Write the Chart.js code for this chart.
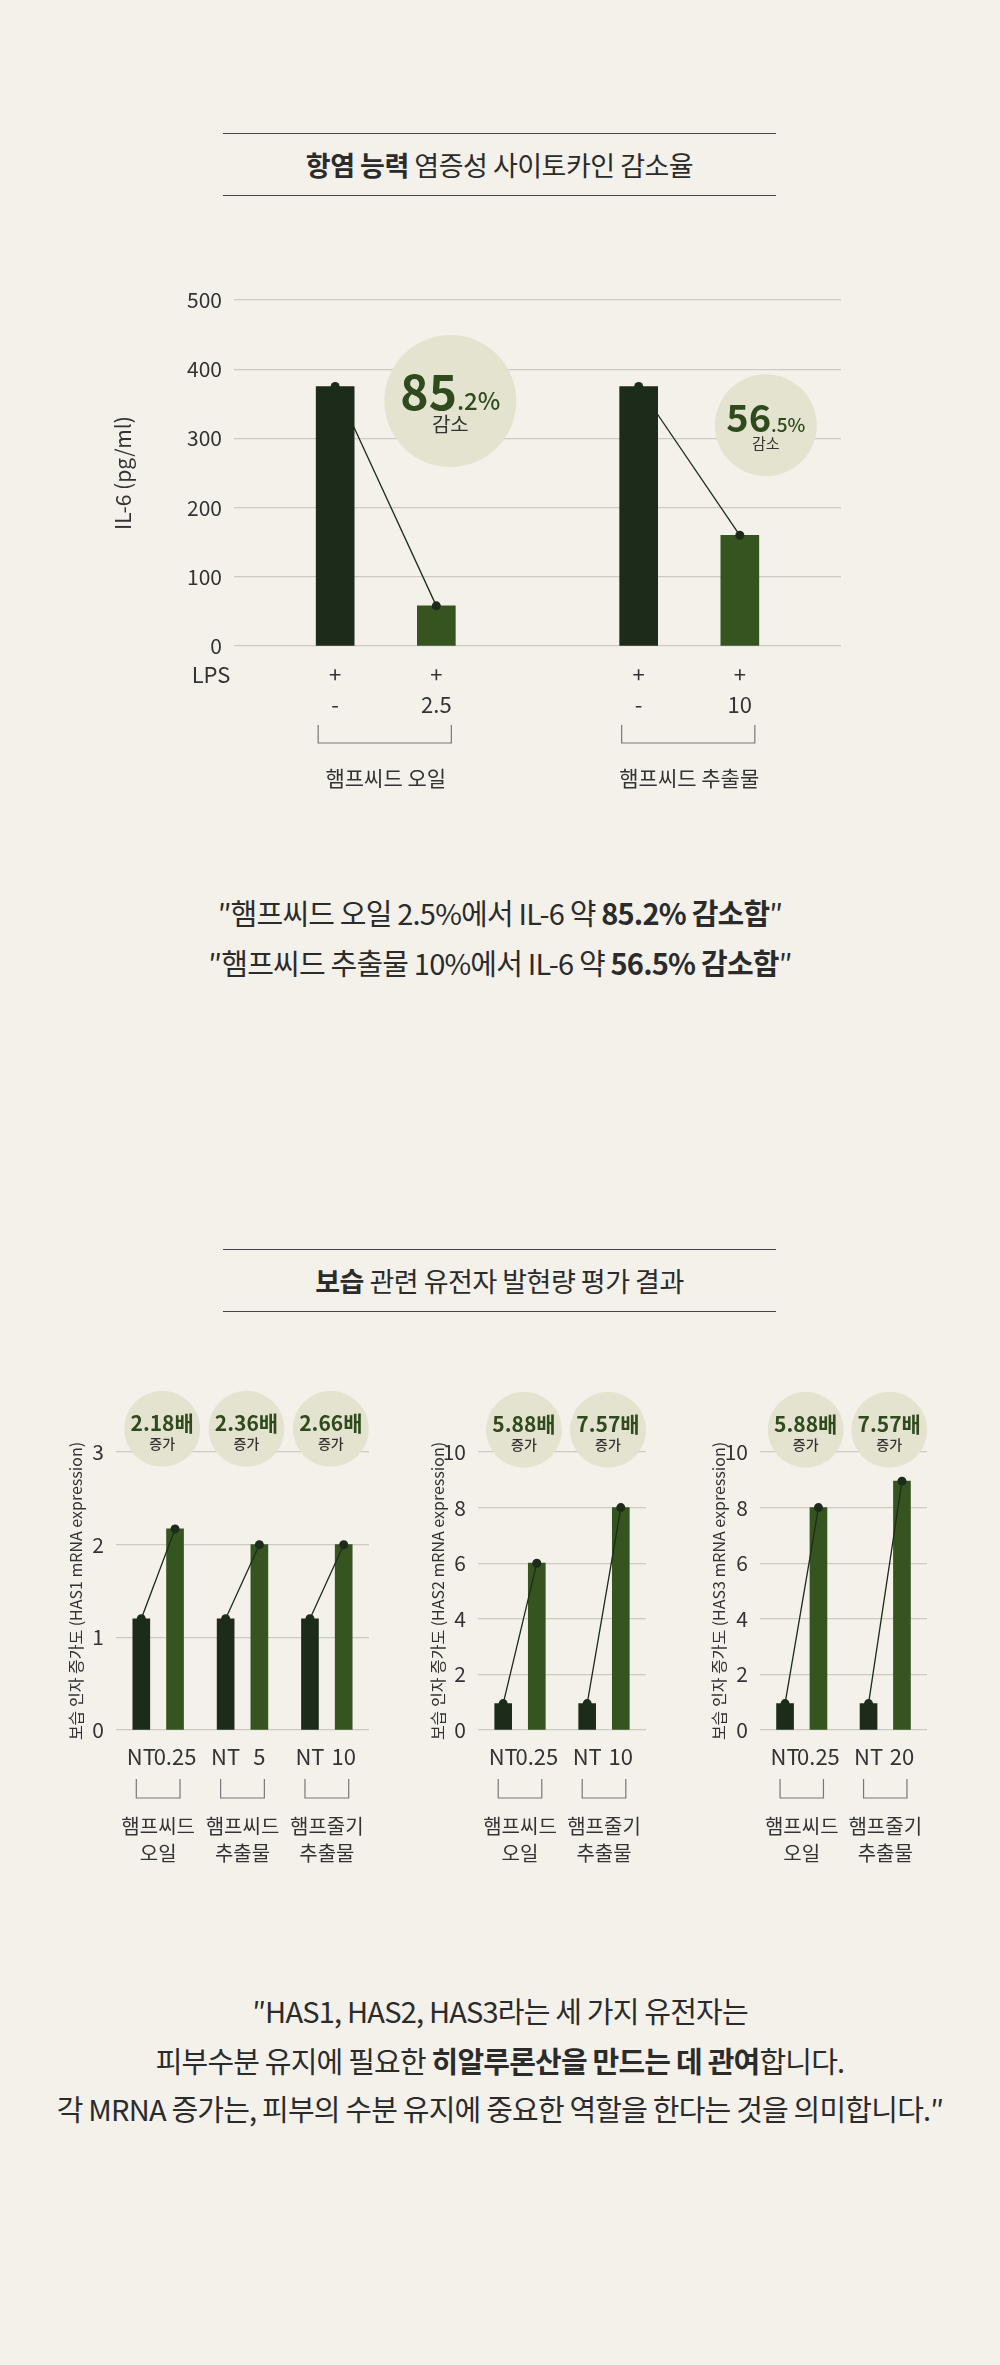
<!DOCTYPE html>
<html>
<head>
<meta charset="utf-8">
<script src="https://cdn.jsdelivr.net/npm/chart.js@4"></script>
<style>
  body { margin:0; background:#f3f1ea; font-family:"Noto Sans CJK KR","Noto Sans",sans-serif; color:#2b2b2b; }
  #page { position:relative; width:1000px; height:2365px; overflow:hidden; }
  canvas { position:absolute; left:0; }
  .title { position:absolute; left:223px; width:553px; border-top:1.5px solid #444; border-bottom:1.5px solid #444; text-align:center; font-size:27px; letter-spacing:-0.5px; box-sizing:border-box; display:flex; align-items:center; justify-content:center; }
  .txt { position:absolute; left:0; width:1000px; text-align:center; font-size:29px; letter-spacing:-0.8px; line-height:1; }
  b { font-weight:700; }
</style>
</head>
<body>
<div id="page">
  <div class="title" style="top:133px;height:63px"><span><b>항염 능력</b> 염증성 사이토카인 감소율</span></div>
  <canvas id="c1" width="1000" height="600" style="top:220px"></canvas>
  <div class="txt" style="top:898px">″햄프씨드 오일 2.5%에서 IL-6 약 <b>85.2% 감소함</b>″</div>
  <div class="txt" style="top:948px">″햄프씨드 추출물 10%에서 IL-6 약 <b>56.5% 감소함</b>″</div>

  <div class="title" style="top:1249px;height:63px"><span><b>보습</b> 관련 유전자 발현량 평가 결과</span></div>
  <canvas id="c2" width="1000" height="540" style="top:1370px"></canvas>
  <canvas id="c3" width="1000" height="540" style="top:1370px"></canvas>
  <canvas id="c4" width="1000" height="540" style="top:1370px"></canvas>

  <div class="txt" style="top:1996px">″HAS1, HAS2, HAS3라는 세 가지 유전자는</div>
  <div class="txt" style="top:2046px">피부수분 유지에 필요한 <b>히알루론산을 만드는 데 관여</b>합니다.</div>
  <div class="txt" style="top:2094px">각 MRNA 증가는, 피부의 수분 유지에 중요한 역할을 한다는 것을 의미합니다.″</div>
</div>
<script>
// IL-6 (항염)
const il6Groups = ["햄프씨드 오일", "햄프씨드 추출물"];
const il6Control = [375, 375];
const il6Treated = [58, 160];
const il6Doses = ["2.5", "10"];
const il6Reduction = [["85", ".2%"], ["56", ".5%"]];

// HAS 유전자
const has1Groups = [["햄프씨드", "오일"], ["햄프씨드", "추출물"], ["햄프줄기", "추출물"]];
const has1NT = [1.2, 1.2, 1.2];
const has1Treated = [2.17, 2.0, 2.0];
const has1Doses = ["0.25", "5", "10"];
const has1Fold = ["2.18배", "2.36배", "2.66배"];

const has2Groups = [["햄프씨드", "오일"], ["햄프줄기", "추출물"]];
const has2NT = [0.95, 0.95];
const has2Treated = [6.0, 8.0];
const has2Doses = ["0.25", "10"];
const has2Fold = ["5.88배", "7.57배"];

const has3Groups = [["햄프씨드", "오일"], ["햄프줄기", "추출물"]];
const has3NT = [0.95, 0.95];
const has3Treated = [8.0, 8.95];
const has3Doses = ["0.25", "20"];
const has3Fold = ["5.88배", "7.57배"];

const DARK = "#1c2b1a", GREEN = "#36541f", BUBBLE = "#e4e3d0", BTXT = "#2f4a1d";
const FONT = '"Noto Sans CJK KR", "Noto Sans", sans-serif';

// 막대 위치(슬롯)에 데이터 배치
function buildSlots(n, slots, ctrl, trt) {
  const data = new Array(n).fill(null), colors = new Array(n).fill(DARK);
  slots.forEach((p, k) => {
    data[p[0]] = ctrl[k]; data[p[1]] = trt[k];
    colors[p[0]] = DARK; colors[p[1]] = GREEN;
  });
  return { data, colors };
}

const decoPlugin = {
  id: "deco",
  afterDatasetsDraw(chart, args, o) {
    const ctx = chart.ctx, meta = chart.getDatasetMeta(0), ys = chart.scales.y, a = chart.chartArea;
    ctx.save();
    ctx.textAlign = "center"; ctx.textBaseline = "middle";
    // y축 제목
    ctx.save();
    ctx.translate(o.titleX, (a.top + a.bottom) / 2 + o.titleDy);
    ctx.rotate(-Math.PI / 2);
    ctx.fillStyle = "#333"; ctx.font = o.titleFont;
    ctx.fillText(o.yTitle, 0, 0);
    ctx.restore();

    if (o.lps) {
      ctx.fillStyle = "#333"; ctx.font = "22px " + FONT;
      ctx.fillText("LPS", o.lpsX, a.bottom + 29);
    }
    o.slots.forEach((p, k) => {
      const b1 = meta.data[p[0]], b2 = meta.data[p[1]];
      // 연결선
      ctx.strokeStyle = DARK; ctx.lineWidth = 1.3;
      ctx.beginPath(); ctx.moveTo(b1.x, b1.y); ctx.lineTo(b2.x, b2.y); ctx.stroke();
      ctx.fillStyle = DARK;
      [b1, b2].forEach(b => { ctx.beginPath(); ctx.arc(b.x, b.y, o.dot, 0, Math.PI * 2); ctx.fill(); });

      // 하단 라벨
      ctx.fillStyle = "#333";
      ctx.font = "22px " + FONT;
      if (o.lps) {
        ctx.fillText("+", b1.x, a.bottom + 29); ctx.fillText("+", b2.x, a.bottom + 29);
        ctx.fillText("-", b1.x, a.bottom + 59); ctx.fillText(o.doses[k], b2.x, a.bottom + 59);
      } else {
        ctx.fillText("NT", b1.x, a.bottom + 27); ctx.fillText(o.doses[k], b2.x, a.bottom + 27);
      }
      // 괄호
      const bl = b1.x - o.brPad[0], br = b2.x + o.brPad[1];
      ctx.strokeStyle = "#777"; ctx.lineWidth = 1.2;
      ctx.beginPath();
      ctx.moveTo(bl, a.bottom + o.brY[0]); ctx.lineTo(bl, a.bottom + o.brY[1]);
      ctx.lineTo(br, a.bottom + o.brY[1]); ctx.lineTo(br, a.bottom + o.brY[0]);
      ctx.stroke();
      const mid = (b1.x + b2.x) / 2;
      ctx.fillStyle = "#333"; ctx.font = o.groupFont;
      [].concat(o.groups[k]).forEach((t, j) => ctx.fillText(t, mid, a.bottom + o.groupY + j * 27));

      // 말풍선
      const cx = (o.bubbleAnchor === "b2" ? b2.x : mid) + o.bubbleDx[k];
      const cy = ys.getPixelForValue(o.bubbleY[k]);
      const r = o.bubbleR[k];
      ctx.fillStyle = BUBBLE;
      ctx.beginPath(); ctx.arc(cx, cy, r, 0, Math.PI * 2); ctx.fill();
      ctx.fillStyle = BTXT;
      if (o.lps) {
        const big = o.bigSize[k], t = o.labels[k];
        ctx.font = "600 " + big + "px " + FONT;
        const w1 = ctx.measureText(t[0]).width;
        ctx.font = "500 " + Math.round(big * 0.5) + "px " + FONT;
        const w2 = ctx.measureText(t[1]).width;
        const x0 = cx - (w1 + w2) / 2, by = cy - r * 0.12;
        ctx.textAlign = "left"; ctx.textBaseline = "alphabetic";
        ctx.font = "600 " + big + "px " + FONT;
        ctx.fillText(t[0], x0, by + big * 0.35);
        ctx.font = "500 " + Math.round(big * 0.5) + "px " + FONT;
        ctx.fillText(t[1], x0 + w1, by + big * 0.35);
        ctx.textAlign = "center"; ctx.textBaseline = "middle";
        ctx.fillStyle = "#333"; ctx.font = Math.round(r * 0.3) + "px " + FONT;
        ctx.fillText("감소", cx, cy + r * 0.36);
      } else {
        ctx.font = "600 21px " + FONT;
        ctx.fillText(o.labels[k], cx, cy - 6);
        ctx.fillStyle = "#333"; ctx.font = "500 14px " + FONT;
        ctx.fillText("증가", cx, cy + 15);
      }
    });
    ctx.restore();
  }
};

function makeChart(id, n, slots, ctrl, trt, max, step, pad, yWidth, thick, deco, offset) {
  const s = buildSlots(n, slots, ctrl, trt);
  deco.slots = slots;
  return new Chart(document.getElementById(id), {
    type: "bar",
    data: {
      labels: Array.from({ length: n }, (_, i) => "s" + i),
      datasets: [{ data: s.data, backgroundColor: s.colors, barThickness: thick }]
    },
    options: {
      responsive: false, animation: false,
      layout: { padding: pad },
      plugins: { legend: { display: false }, tooltip: { enabled: false }, deco: deco },
      scales: {
        x: { display: false, offset: offset, grid: { display: false } },
        y: {
          min: 0, max: max,
          afterFit: sc => { sc.width = yWidth; },
          border: { display: false },
          grid: { color: "#cbcbc2", drawTicks: false, lineWidth: 1.2 },
          ticks: { stepSize: step, padding: 12, color: "#333", font: { family: FONT, size: 21 } }
        }
      }
    },
    plugins: [decoPlugin]
  });
}

Chart.defaults.font.family = FONT;

makeChart("c1", 7, [[1, 2], [4, 5]], il6Control, il6Treated, 500, 100,
  { top: 80, bottom: 174, left: 100, right: 159 }, 134, 38, {
    yTitle: "IL-6 (pg/ml)", titleX: 123, titleDy: 0, titleFont: "21px " + FONT,
    lps: true, lpsX: 211, doses: il6Doses, dot: 4.5,
    brPad: [17, 15], brY: [79, 97], groups: il6Groups, groupY: 132, groupFont: "21px " + FONT,
    bubbleAnchor: "b2", bubbleDx: [14, 26], bubbleY: [354, 319], bubbleR: [66, 51],
    bigSize: [48, 38], labels: il6Reduction
  }, false);

const lowerDeco = (title, doses, groups, fold, bubbleY, titleX) => ({
  yTitle: title, titleX: titleX, titleDy: 0, titleFont: "16px " + FONT,
  lps: false, doses: doses, dot: 4.5,
  brPad: [5, 5], brY: [49, 68], groups: groups, groupY: 96, groupFont: "20px " + FONT,
  bubbleAnchor: "mid", bubbleDx: groups.map(() => 4), bubbleY: groups.map(() => bubbleY),
  bubbleR: groups.map(() => 38), labels: fold
});

makeChart("c2", 15, [[1, 3], [6, 8], [11, 13]], has1NT, has1Treated, 3, 1,
  { top: 82, bottom: 180, left: 76, right: 631 }, 40, 17,
  lowerDeco("보습 인자 증가도 (HAS1 mRNA expression)", has1Doses, has1Groups, has1Fold, 3.25, 76), true);

makeChart("c3", 10, [[1, 3], [6, 8]], has2NT, has2Treated, 10, 2,
  { top: 82, bottom: 180, left: 438, right: 354 }, 40, 17,
  lowerDeco("보습 인자 증가도 (HAS2 mRNA expression)", has2Doses, has2Groups, has2Fold, 10.8, 438), true);

makeChart("c4", 10, [[1, 3], [6, 8]], has3NT, has3Treated, 10, 2,
  { top: 82, bottom: 180, left: 720, right: 73 }, 40, 17,
  lowerDeco("보습 인자 증가도 (HAS3 mRNA expression)", has3Doses, has3Groups, has3Fold, 10.8, 719), true);
</script>
</body>
</html>
